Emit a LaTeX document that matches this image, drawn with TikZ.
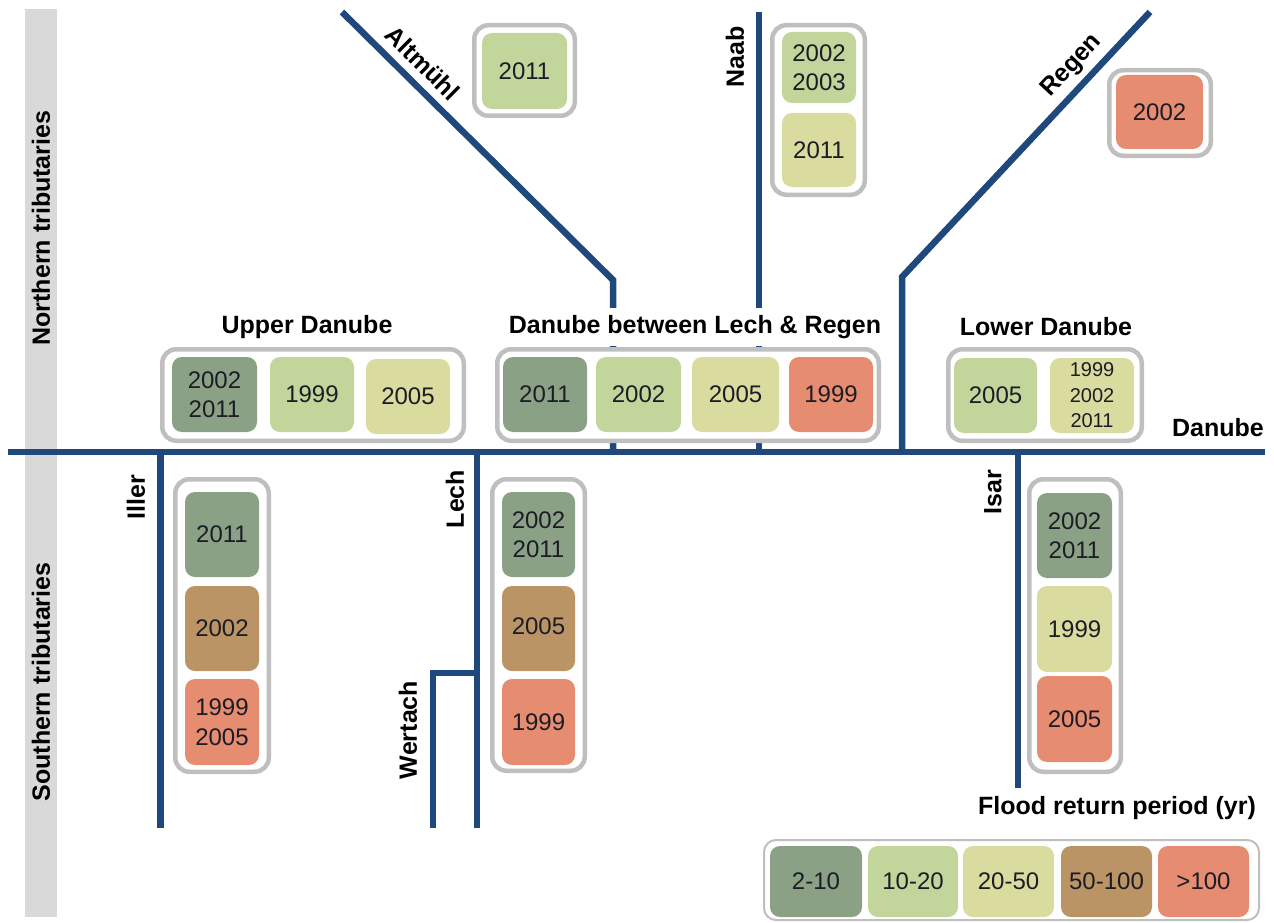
\documentclass[tikz,border=0pt]{standalone}
\usepackage{fontspec}
\setmainfont{Liberation Sans}
\definecolor{cA}{RGB}{139,161,134}
\definecolor{cB}{RGB}{194,214,155}
\definecolor{cC}{RGB}{217,220,158}
\definecolor{cD}{RGB}{186,148,101}
\definecolor{cE}{RGB}{230,140,112}
\definecolor{riverblue}{RGB}{31,73,125}
\definecolor{bandgray}{RGB}{217,217,217}
\definecolor{framegray}{RGB}{191,191,191}
\definecolor{numtext}{RGB}{28,28,38}
\begin{document}
\begin{tikzpicture}[x=1pt,y=-1pt,
  river/.style={line width=6.5pt, draw=riverblue, line join=miter},
  holder/.style={draw=framegray, line width=4.5pt, fill=white, rounded corners=14pt, inner sep=0pt},
  legholder/.style={draw=framegray, line width=2pt, fill=white, rounded corners=12pt, inner sep=0pt},
  cell/.style={rounded corners=10pt, inner sep=0pt, align=center, text=numtext,
    font=\fontsize{24}{29.5}\selectfont},
  smallcell/.style={cell, font=\fontsize{20}{25.5}\selectfont},
  lbl/.style={font=\bfseries\fontsize{25}{30}\selectfont, inner sep=0pt, text=black},
  title/.style={lbl, fill=white, inner xsep=2pt, inner ysep=7pt},
]
\useasboundingbox (0,0) rectangle (1274,923);

% side bands
\fill[bandgray] (25,9) rectangle (57,917);
\node[lbl, rotate=90] (north) at (41,228) {Northern tributaries};
\node[lbl, rotate=90] (south) at (41,682) {Southern tributaries};

% river coordinates
\coordinate (dW) at (8,452);
\coordinate (dE) at (1265,452);
\coordinate (altTop) at (342,12);
\coordinate (altBend) at (613,280);
\coordinate (altMouth) at (613,452);
\coordinate (naabTop) at (759,12);
\coordinate (naabMouth) at (759,452);
\coordinate (regTop) at (1150,12);
\coordinate (regBend) at (902,277);
\coordinate (regMouth) at (902,452);
\coordinate (illMouth) at (160.5,452);
\coordinate (illEnd) at (160.5,828);
\coordinate (lechMouth) at (477,452);
\coordinate (wertMouth) at (477,673);
\coordinate (lechEnd) at (477,828);
\coordinate (wertBend) at (433,673);
\coordinate (wertEnd) at (433,828);
\coordinate (isarMouth) at (1018,452);
\coordinate (isarEnd) at (1018,788);

% tributaries
\draw[river] (altTop) -- (altBend) -- (altMouth);
\draw[river] (naabTop) -- (naabMouth);
\draw[river] (regTop) -- (regBend) -- (regMouth);
\draw[river] (illMouth) -- (illEnd);
\draw[river] (lechMouth) -- (lechEnd);
\draw[river] (wertMouth) -- (wertBend) -- (wertEnd);
\draw[river] (isarMouth) -- (isarEnd);
\draw[river] (dW) -- (dE);

% river labels
\node[lbl, rotate=-44.7] (lAlt) at (423,63) {Altmühl};
\node[lbl, rotate=90] (lNaab) at (735,57) {Naab};
\node[lbl, rotate=47] (lReg) at (1072,66) {Regen};
\node[lbl, rotate=90] (lIll) at (136,497) {Iller};
\node[lbl, rotate=90] (lLech) at (455,499) {Lech};
\node[lbl, rotate=90] (lWert) at (408,730) {Wertach};
\node[lbl, rotate=90] (lIsar) at (993,492) {Isar};
\node[lbl] (lDan) at (1218,428) {Danube};

% section titles
\node[title] (tUp) at (307,327) {Upper Danube};
\node[title] (tMid) at (695,327) {Danube between Lech \& Regen};
\node[title] (tLow) at (1046,327) {Lower Danube};
\node[lbl] (tLeg) at (1117,808) {Flood return period (yr)};

% holders
\node[holder, minimum width=100.5pt, minimum height=90.5pt] (hAlt) at (524.5,70.5) {};
\node[holder, minimum width=92.5pt, minimum height=169.5pt] (hNaab) at (818.5,110) {};
\node[holder, minimum width=101.5pt, minimum height=85.5pt] (hReg) at (1160,113) {};
\node[holder, minimum width=301.5pt, minimum height=91.5pt] (hUp) at (313,395) {};
\node[holder, minimum width=381.5pt, minimum height=91.5pt] (hMid) at (688,395) {};
\node[holder, minimum width=193.5pt, minimum height=91.5pt] (hLow) at (1045,395) {};
\node[holder, minimum width=93.5pt, minimum height=292.5pt] (hIll) at (222,625.5) {};
\node[holder, minimum width=92.5pt, minimum height=291.5pt] (hLech) at (538.5,625) {};
\node[holder, minimum width=91.5pt, minimum height=292.5pt] (hIsar) at (1075,625.5) {};
\node[legholder, minimum width=495pt, minimum height=80pt] (hLeg) at (1011.5,880) {};

% Altmuehl
\node[cell, fill=cB, minimum width=85pt, minimum height=76pt] (alt1) at (524.5,71) {2011};
% Naab
\node[cell, fill=cB, minimum width=74pt, minimum height=71pt] (naab1) at (819,67.5) {2002\\2003};
\node[cell, fill=cC, minimum width=74pt, minimum height=74pt] (naab2) at (819,150) {2011};
% Regen
\node[cell, fill=cE, minimum width=87pt, minimum height=74pt] (reg1) at (1159.5,112) {2002};
% Upper Danube
\node[cell, fill=cA, minimum width=85pt, minimum height=75pt] (up1) at (214.5,394.5) {2002\\2011};
\node[cell, fill=cB, minimum width=84pt, minimum height=75pt] (up2) at (312,394.5) {1999};
\node[cell, fill=cC, minimum width=84pt, minimum height=75pt] (up3) at (408,396.5) {2005};
% Middle Danube
\node[cell, fill=cA, minimum width=84pt, minimum height=75pt] (mid1) at (545,394.5) {2011};
\node[cell, fill=cB, minimum width=85pt, minimum height=75pt] (mid2) at (638.5,394.5) {2002};
\node[cell, fill=cC, minimum width=87pt, minimum height=75pt] (mid3) at (735.5,394.5) {2005};
\node[cell, fill=cE, minimum width=84pt, minimum height=75pt] (mid4) at (831,394.5) {1999};
% Lower Danube
\node[cell, fill=cB, minimum width=83pt, minimum height=75pt] (low1) at (995.5,395.5) {2005};
\node[smallcell, fill=cC, minimum width=84pt, minimum height=75pt] (low2) at (1092,395.5) {1999\\2002\\2011};
% Iller
\node[cell, fill=cA, minimum width=74pt, minimum height=85pt] (ill1) at (222,534.5) {2011};
\node[cell, fill=cD, minimum width=74pt, minimum height=85pt] (ill2) at (222,628.5) {2002};
\node[cell, fill=cE, minimum width=74pt, minimum height=86pt] (ill3) at (222,722) {1999\\2005};
% Lech
\node[cell, fill=cA, minimum width=73pt, minimum height=85pt] (lech1) at (538.5,534.5) {2002\\2011};
\node[cell, fill=cD, minimum width=73pt, minimum height=85pt] (lech2) at (538.5,628.5) {\raisebox{4pt}{2005}};
\node[cell, fill=cE, minimum width=73pt, minimum height=86pt] (lech3) at (538.5,722) {1999};
% Isar
\node[cell, fill=cA, minimum width=75pt, minimum height=85pt] (isar1) at (1074.5,535.5) {2002\\2011};
\node[cell, fill=cC, minimum width=75pt, minimum height=86pt] (isar2) at (1074.5,629) {1999};
\node[cell, fill=cE, minimum width=75pt, minimum height=86pt] (isar3) at (1074.5,719) {2005};
% Legend
\node[cell, fill=cA, minimum width=92pt, minimum height=71pt] (leg1) at (816,881.5) {2-10};
\node[cell, fill=cB, minimum width=90pt, minimum height=71pt] (leg2) at (913,881.5) {10-20};
\node[cell, fill=cC, minimum width=91pt, minimum height=71pt] (leg3) at (1008.5,881.5) {20-50};
\node[cell, fill=cD, minimum width=91pt, minimum height=71pt] (leg4) at (1106.5,881.5) {50-100};
\node[cell, fill=cE, minimum width=91pt, minimum height=71pt] (leg5) at (1203.5,881.5) {>100};
\end{tikzpicture}
\end{document}
